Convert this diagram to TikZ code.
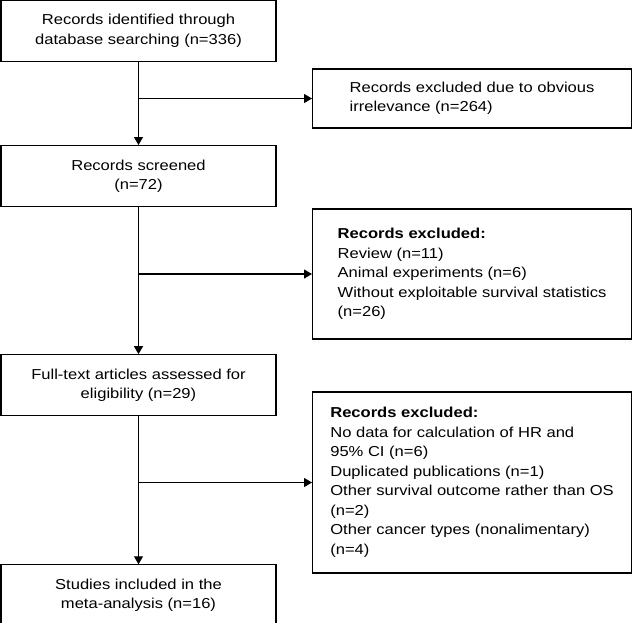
\documentclass[tikz,border=0pt]{standalone}
\usepackage{fontspec}
\setmainfont[FakeStretch=1.15]{Liberation Sans}
\usetikzlibrary{arrows.meta,positioning}

\begin{document}
\begin{tikzpicture}[x=1pt,y=-1pt,font=\fontsize{14.4}{19.5}\selectfont,
  node distance=83pt,
  stepbox/.style={draw,line width=1.1pt,minimum width=275pt,minimum height=61pt,
    align=center,inner sep=0pt},
  exclbox/.style={draw,line width=1.1pt,minimum width=319pt,align=left,
    anchor=west,inner sep=0pt},
  flow/.style={line width=1.1pt,-{Triangle[length=8pt,width=9pt]}}]
  \useasboundingbox (0,0) rectangle (632,622);

  % main column
  \node (ident) [stepbox] at (138.5,31) {Records identified through\\database searching (n=336)};
  \node (screen) [stepbox,below=of ident] {Records screened\\(n=72)};
  \node (full) [stepbox,below=147pt of screen] {Full-text articles assessed for\\eligibility (n=29)};
  \node (incl) [stepbox,below=148pt of full] {Studies included in the\\meta-analysis (n=16)};

  % exclusions
  \node (ex1) [exclbox,minimum height=59pt] at (312,98.5)
    {Records excluded due to obvious\\irrelevance (n=264)};
  \node (ex2) [exclbox,minimum height=130pt] at (312,274)
    {\textbf{Records excluded:}\\Review (n=11)\\Animal experiments (n=6)\\
     Without exploitable survival statistics\\(n=26)};
  \node (ex3) [exclbox,minimum height=181pt] at (312,482.5)
    {\textbf{Records excluded:}\\No data for calculation of HR and\\95\% CI (n=6)\\
     Duplicated publications (n=1)\\Other survival outcome rather than OS\\(n=2)\\
     Other cancer types (nonalimentary)\\(n=4)};

  \foreach \a/\b/\e in {ident/screen/ex1,screen/full/ex2,full/incl/ex3} {
    \draw[flow] (\a) -- (\b);
    \draw[flow] (\a.south |- \e.west) -- (\e);
  }
\end{tikzpicture}
\end{document}
